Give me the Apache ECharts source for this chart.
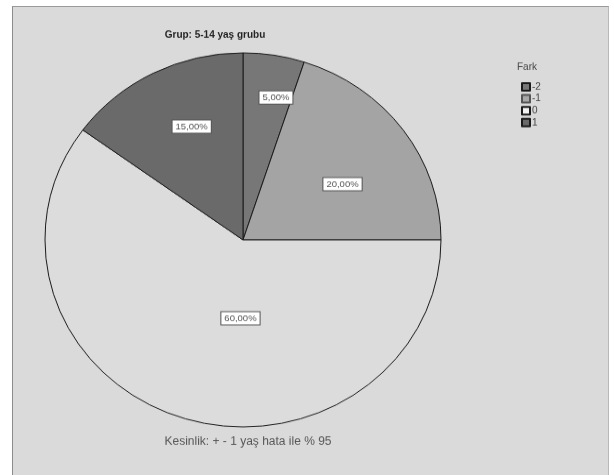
<!DOCTYPE html>
<html>
<head>
<meta charset="utf-8">
<script src="https://cdn.jsdelivr.net/npm/echarts@6/dist/echarts.min.js"></script>
<style>
  html, body { margin: 0; padding: 0; background: #ffffff; }
  #wrap { position: relative; width: 614px; height: 475px; overflow: hidden; }
  #panel {
    position: absolute; left: 12px; top: 6px; width: 595px; height: 480px;
    background: #dadada; border-left: 1px solid #8c8c8c; border-top: 1px solid #9a9a9a;
    border-right: 1px solid #b8b8b8;
  }
  /* the pie is drawn as an ellipse: the chart is squashed vertically */
  #chart {
    position: absolute; left: 0; top: 0; width: 614px; height: 503px;
    transform: scaleY(0.9444); transform-origin: 0 0;
  }
</style>
</head>
<body>
<div id="wrap">
  <div id="panel"></div>
  <div id="chart"></div>
</div>
<script>
// Fark categories and their shares (%) for the 5-14 age group
const categories = ['-2', '-1', '0', '1'];
const shares = [5, 20, 60, 15];
const sliceColors = ['#777777', '#a4a4a4', '#dcdcdc', '#6a6a6a'];
// label nudges from the default inside position
const labelNudge = [[17, -50], [17, 1], [29, -14], [-5, -29]];

const chart = echarts.init(document.getElementById('chart'), null, { renderer: 'canvas' });

const fmt = v => v.toFixed(2).replace('.', ',') + '%';

chart.setOption({
  backgroundColor: 'transparent',
  animation: false,
  title: [
    {
      text: 'Grup: 5-14 yaş grubu',
      left: 210, top: 27, textAlign: 'center',
      textStyle: { fontFamily: 'Liberation Sans, Arial', fontSize: 10, fontWeight: 'bold', color: '#222' }
    },
    {
      text: 'Kesinlik: + - 1 yaş hata ile % 95',
      left: 243, top: 457, textAlign: 'center',
      textStyle: { fontFamily: 'Liberation Sans, Arial', fontSize: 12, fontWeight: 'normal', color: '#555' }
    },
    {
      text: 'Fark',
      left: 512, top: 61,
      textStyle: { fontFamily: 'Liberation Sans, Arial', fontSize: 10, fontWeight: 'normal', color: '#444' }
    }
  ],
  legend: {
    orient: 'vertical',
    left: 516, top: 82,
    itemWidth: 8, itemHeight: 8, itemGap: 2.6,
    icon: 'rect',
    data: [
      { name: categories[0] },
      { name: categories[1], itemStyle: { color: '#a8a8a8', borderColor: '#555' } },
      { name: categories[2], itemStyle: { color: '#f2f2f2' } },
      { name: categories[3] }
    ],
    textStyle: { fontFamily: 'Liberation Sans, Arial', fontSize: 10, color: '#444', lineHeight: 9, padding: [0, 0, 0, -3] },
    selectedMode: false
  },
  series: [{
    type: 'pie',
    center: [243, 254],
    radius: 198,
    startAngle: 90,
    clockwise: true,
    silent: true,
    avoidLabelOverlap: false,
    itemStyle: { borderColor: '#1a1a1a', borderWidth: 1 },
    label: {
      show: true,
      position: 'inside',
      formatter: p => fmt(p.value),
      fontFamily: 'Liberation Sans, Arial',
      fontSize: 9.5,
      color: '#555',
      backgroundColor: '#ffffff',
      borderColor: '#555555',
      borderWidth: 1,
      padding: [2, 3, 1, 3]
    },
    labelLine: { show: false },
    labelLayout: p => ({ dx: labelNudge[p.dataIndex][0], dy: labelNudge[p.dataIndex][1] }),
    data: categories.map((c, i) => ({
      name: c, value: shares[i], itemStyle: { color: sliceColors[i] }
    }))
  }]
});
</script>
</body>
</html>
